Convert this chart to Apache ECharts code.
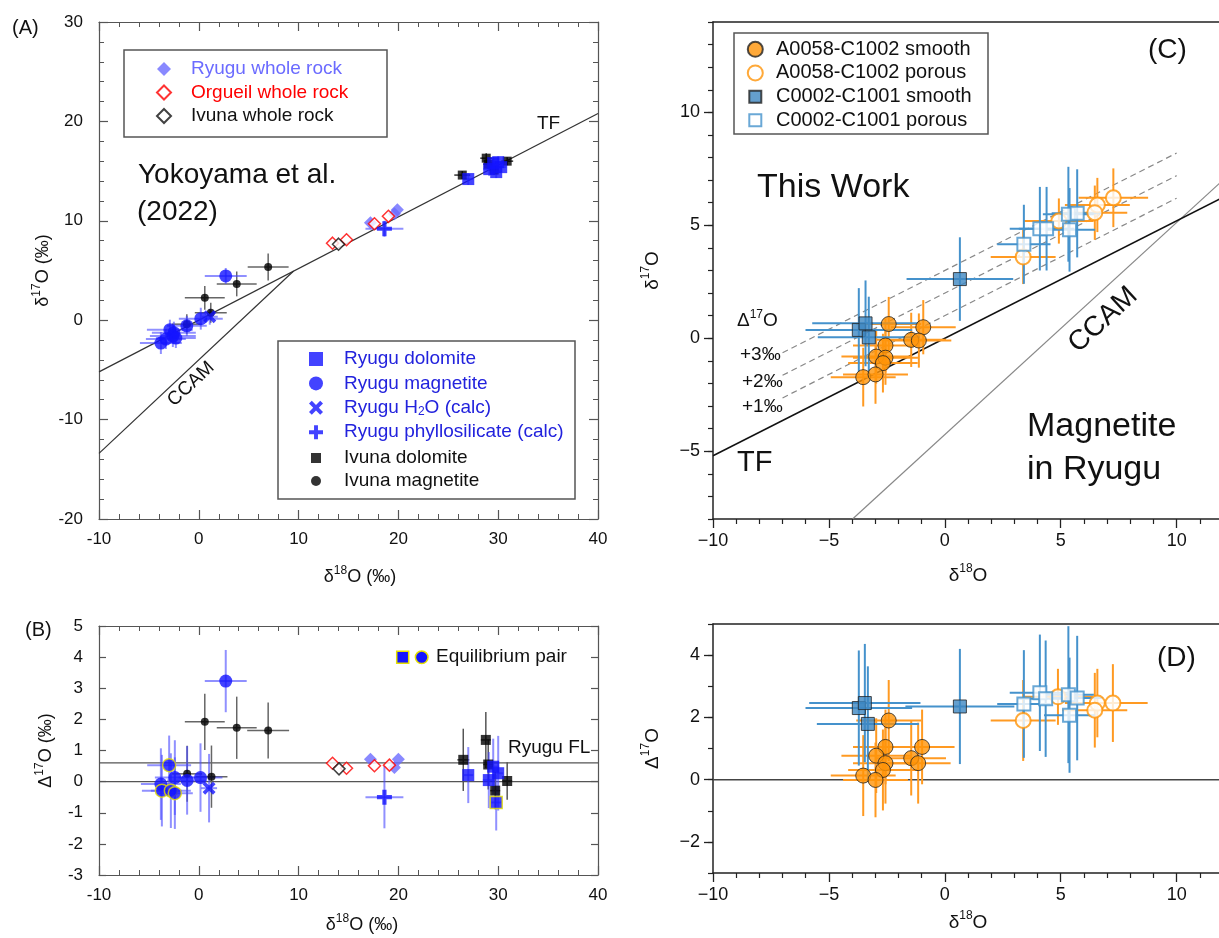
<!DOCTYPE html>
<html>
<head>
<meta charset="utf-8">
<script src="https://cdn.jsdelivr.net/npm/echarts@6/dist/echarts.min.js"></script>
<style>
  html, body { margin: 0; padding: 0; background: #fff; }
  #chart { width: 1219px; height: 938px; }
</style>
</head>
<body>
<div id="chart"></div>
<script>
// ---- Panel A: [d18O, d17O, xErr, yErr] (Yokoyama et al. 2022)
const aRyuguMagnetite = [[2.7, 4.45, 2.1, 0.8], [0.2, 0.15, 2.2, 1.1], [-1.2, -0.57, 2.0, 1.0], [-2.9, -0.95, 2.3, 1.0],
  [-2.5, -1.25, 2.2, 1.1], [-2.6, -1.6, 2.3, 1.1], [-2.3, -1.8, 2.0, 1.0], [-3.3, -1.9, 2.0, 1.0], [-3.8, -2.3, 2.1, 1.1]];
const aRyuguDolomite = [[27.0, 14.2, 0.5, 0.6], [29.5, 15.8, 0.6, 0.6], [30.0, 15.9, 0.5, 0.6], [29.1, 15.2, 0.6, 0.7],
  [29.8, 14.9, 0.5, 0.6], [30.3, 15.4, 0.5, 0.5]];
const aRyuguH2O = [[1.1, 0.35, 0.8, 0.8]];
const aRyuguPhyllo = [[18.6, 9.2, 1.9, 0.8]];
const aRyuguWhole = [[17.2, 9.8], [19.6, 10.7], [19.9, 11.1]];
const aOrgueilWhole = [[13.4, 7.75], [14.8, 8.1], [17.6, 9.7], [19.0, 10.45]];
const aIvunaWhole = [[14.0, 7.65]];
const aIvunaDolomite = [[28.8, 16.3, 0.6, 0.5], [26.4, 14.6, 0.8, 0.4], [29.0, 15.7, 0.5, 0.5], [30.9, 16.0, 0.6, 0.4], [29.6, 15.1, 0.5, 0.5]];
const aIvunaMagnetite = [[6.95, 5.35, 2.05, 1.35], [3.8, 3.65, 2.0, 1.25], [0.6, 2.25, 2.0, 1.2], [1.2, 0.75, 1.6, 1.0], [-1.2, -0.4, 1.5, 1.0]];
const aTF = [[-10, -5.2], [40, 20.8]];
const aCCAM = [[-10, -13.4], [9.5, 4.95]];

// ---- Panel B: [d18O, D17O, xErr, yErr]
const bRyuguMagnetite = [[2.7, 3.23, 2.1, 1.0], [-2.4, 0.13, 2.0, 1.2], [-1.17, 0.04, 2.0, 1.1], [0.17, 0.13, 2.2, 1.1], [-3.8, -0.08, 2.0, 1.15]];
const bRyuguMagnetiteEq = [[-2.97, 0.53, 2.2, 0.95], [-3.7, -0.29, 2.0, 1.15], [-2.8, -0.29, 2.0, 1.2], [-2.4, -0.37, 1.8, 1.15]];
const bRyuguH2O = [[1.03, -0.21, 0.8, 1.1]];
const bRyuguPhyllo = [[18.6, -0.5, 1.9, 1.0]];
const bRyuguDolomite = [[27.0, 0.21, 0.5, 0.9], [29.5, 0.48, 0.6, 0.9], [30.0, 0.27, 0.5, 1.2], [29.06, 0.05, 0.6, 0.9]];
const bRyuguDolomiteEq = [[29.8, -0.67, 0.5, 0.9]];
const bIvunaDolomite = [[28.76, 1.34, 0.5, 0.9], [26.5, 0.7, 0.6, 1.0], [29.0, 0.55, 0.5, 0.8], [30.9, 0.02, 0.5, 0.6], [29.7, -0.29, 0.5, 0.6]];
const bIvunaMagnetite = [[0.6, 1.92, 2.0, 0.9], [3.8, 1.73, 2.0, 1.0], [6.95, 1.64, 2.1, 0.9], [-1.17, 0.25, 1.5, 0.9], [1.27, 0.16, 1.6, 1.0]];
const bRyuguWhole = [[17.2, 0.72], [19.6, 0.45], [20.0, 0.72]];
const bOrgueilWhole = [[13.4, 0.59], [14.8, 0.43], [17.6, 0.51], [19.1, 0.53]];
const bIvunaWhole = [[14.05, 0.41]];
const bZero = [[-10, 0], [40, 0]];
const bRyuguFL = [[-10, 0.6], [40, 0.6]];

// ---- Panel C: [d18O, d17O, xErr, yErr] (this work)
const cSmoothCircle = [[-2.42, 0.63, 1.4, 1.2], [-2.56, -0.32, 1.4, 1.2], [-2.96, -0.81, 1.5, 1.2], [-2.56, -0.86, 1.4, 1.2],
  [-2.67, -1.1, 1.5, 1.3], [-3.52, -1.72, 1.4, 1.3], [-2.99, -1.6, 1.4, 1.3], [-1.45, -0.07, 1.5, 1.2], [-0.93, 0.49, 1.4, 1.2], [-1.12, -0.1, 1.4, 1.2]];
const cPorousCircle = [[3.38, 3.6, 1.4, 1.2], [4.92, 5.19, 1.5, 1.0], [6.58, 5.9, 1.4, 1.2], [6.47, 5.56, 1.4, 1.2], [7.27, 6.22, 1.5, 1.3]];
const cSmoothSquare = [[-3.71, 0.37, 2.3, 1.85], [-3.42, 0.66, 2.3, 1.9], [-3.28, 0.04, 2.2, 1.8], [0.65, 2.62, 2.3, 1.85]];
const cPorousSquare = [[3.41, 4.16, 1.15, 1.75], [4.1, 4.85, 1.3, 1.85], [4.39, 4.85, 1.2, 1.85], [5.33, 5.49, 1.1, 2.1], [5.71, 5.53, 1.1, 1.95], [5.38, 4.8, 1.1, 1.85]];
const cTF = [[-10, -5.2], [12, 6.24]];
const cCCAM = [[-3.98, -8], [12, 7.0]];
const cPlus1 = [[-7, -2.64], [10, 6.2]];
const cPlus2 = [[-7, -1.64], [10, 7.2]];
const cPlus3 = [[-7, -0.64], [10, 8.2]];

// ---- Panel D: [d18O, D17O, xErr, yErr]
const dSmoothCircle = [[-2.42, 1.9, 1.4, 1.3], [-2.56, 1.05, 1.4, 1.2], [-2.96, 0.77, 1.5, 1.2], [-2.56, 0.53, 1.4, 1.3],
  [-2.67, 0.31, 1.5, 1.3], [-3.52, 0.13, 1.4, 1.3], [-2.99, -0.01, 1.4, 1.2], [-1.45, 0.69, 1.5, 1.2], [-0.98, 1.05, 1.4, 1.2], [-1.15, 0.53, 1.4, 1.3]];
const dPorousCircle = [[3.38, 1.9, 1.4, 1.3], [4.88, 2.66, 1.5, 0.9], [6.58, 2.46, 1.4, 1.1], [6.47, 2.23, 1.4, 1.2], [7.25, 2.46, 1.5, 1.25]];
const dSmoothSquare = [[-3.71, 2.3, 2.3, 1.85], [-3.45, 2.46, 2.4, 1.9], [-3.32, 1.79, 2.2, 1.85], [0.65, 2.35, 2.35, 1.85]];
const dPorousSquare = [[3.41, 2.43, 1.15, 1.73], [4.1, 2.79, 1.3, 1.87], [4.35, 2.6, 1.2, 1.87], [5.33, 2.73, 1.1, 2.2], [5.71, 2.62, 1.1, 2.0], [5.38, 2.07, 1.1, 1.85]];
const dZero = [[-10, 0], [12, 0]];

const cdMajorY = [-5, 0, 5, 10];
const dMajorY = [-2, 0, 2, 4];

const FONT = 'Liberation Sans, Arial, Helvetica, sans-serif';
const BLUE = '#1414ff';
const BLUE_ERR = 'rgba(70,70,255,0.6)';
const WHOLE = '#6b6bff';
const ORANGE = '#ff9408';
const ORANGE_ERR = '#ff9a22';
const STEEL = '#3d87c2';
const STEEL_ERR = '#4592cc';
const YELLOW = '#e6e000';
const AB_C = '#555';
const CD_C = '#222';
const X_PATH = 'path://M0,2L2,0L5,3L8,0L10,2L7,5L10,8L8,10L5,7L2,10L0,8L3,5Z';
const PLUS_PATH = 'path://M3.6,0H6.4V3.6H10V6.4H6.4V10H3.6V6.4H0V3.6H3.6Z';

function rich(size) {
  return {
    b: { fontSize: size, fontFamily: FONT, color: '#111', lineHeight: size + 6 },
    s: { fontSize: Math.round(size * 0.65), fontFamily: FONT, color: '#111', verticalAlign: 'top' }
  };
}
const minus = v => (v < 0 ? '\u2212' + Math.abs(v) : String(v));

function errorBars(data, xi, yi, color, width) {
  return {
    type: 'custom', data: data, xAxisIndex: xi, yAxisIndex: yi, silent: true, z: 2, clip: true,
    renderItem: function (params, api) {
      const x = api.value(0), y = api.value(1), ex = api.value(2), ey = api.value(3);
      const l = api.coord([x - ex, y]), r = api.coord([x + ex, y]);
      const b = api.coord([x, y - ey]), t = api.coord([x, y + ey]);
      const st = { stroke: color, lineWidth: width };
      return { type: 'group', children: [
        { type: 'line', shape: { x1: l[0], y1: l[1], x2: r[0], y2: r[1] }, style: st },
        { type: 'line', shape: { x1: b[0], y1: b[1], x2: t[0], y2: t[1] }, style: st }
      ] };
    }
  };
}
function pts(name, data, xi, yi, symbol, size, itemStyle) {
  return { type: 'scatter', name: name, data: data, xAxisIndex: xi, yAxisIndex: yi,
    symbol: symbol, symbolSize: size, itemStyle: itemStyle, z: 3, emphasis: { disabled: true } };
}
function seg(data, xi, yi, color, width, dash) {
  return { type: 'line', data: data, xAxisIndex: xi, yAxisIndex: yi, symbol: 'none', silent: true, z: 1,
    lineStyle: { color: color, width: width, type: dash || 'solid' } };
}
function label(x, y, text, size, opts) {
  opts = opts || {};
  return { type: 'text', x: x, y: y, rotation: (opts.rot || 0) * Math.PI / 180, z: 10, silent: true,
    style: { text: text, fontSize: size, fontFamily: FONT, fill: opts.fill || '#111',
      align: opts.align || 'left', verticalAlign: 'middle', rich: opts.rich } };
}
function box(x, y, w, h) {
  return { type: 'rect', shape: { x: x, y: y, width: w, height: h }, silent: true, z: 0,
    style: { fill: 'none', stroke: '#555', lineWidth: 1.5 } };
}

// A / B axes: ticks inside on all four sides
function abX(grid, pos, name, gap, padLeft) {
  return {
    type: 'value', gridIndex: grid, position: pos, min: -10, max: 40, interval: 10,
    axisLine: { onZero: false, lineStyle: { color: AB_C, width: 1.2 } },
    axisTick: { inside: true, length: 9, lineStyle: { color: AB_C, width: 1.2 } },
    minorTick: { show: true, splitNumber: 5, length: 5, lineStyle: { color: AB_C, width: 1 } },
    axisLabel: { show: pos === 'bottom', fontSize: 17, color: '#111', fontFamily: FONT, margin: 12 },
    splitLine: { show: false },
    name: name || '', nameLocation: 'middle', nameGap: gap || 0,
    nameTextStyle: { rich: rich(18), padding: [0, 0, 0, padLeft || 0] }
  };
}
function abY(grid, pos, min, max, interval, minorSplit, tickLen, name, gap) {
  return {
    type: 'value', gridIndex: grid, position: pos, min: min, max: max, interval: interval,
    axisLine: { onZero: false, lineStyle: { color: AB_C, width: 1.2 } },
    axisTick: { inside: true, length: tickLen, lineStyle: { color: AB_C, width: 1.2 } },
    minorTick: { show: minorSplit > 0, splitNumber: minorSplit || 5, length: 5, lineStyle: { color: AB_C, width: 1 } },
    axisLabel: { show: pos === 'left', fontSize: 17, color: '#111', fontFamily: FONT, margin: 16 },
    splitLine: { show: false },
    name: name || '', nameLocation: 'middle', nameGap: gap || 0,
    nameTextStyle: { rich: rich(18) }
  };
}
// C / D axes: ticks outward
function cdX(grid, name, gap) {
  return {
    type: 'value', gridIndex: grid, position: 'bottom', min: -10, max: 12, interval: 5,
    axisLine: { onZero: false, lineStyle: { color: CD_C, width: 1.5 } },
    axisTick: { length: 9, lineStyle: { color: CD_C, width: 1.3 } },
    minorTick: { show: true, splitNumber: 5, length: 5, lineStyle: { color: CD_C, width: 1.2 } },
    axisLabel: { fontSize: 18, color: '#111', fontFamily: FONT, margin: 13, showMaxLabel: false, formatter: minus },
    splitLine: { show: false },
    name: name, nameLocation: 'middle', nameGap: gap, nameTextStyle: { rich: rich(19) }
  };
}
function cdTop(grid) {
  return { type: 'value', gridIndex: grid, position: 'top', min: -10, max: 12,
    axisLine: { onZero: false, lineStyle: { color: CD_C, width: 1.5 } },
    axisTick: { show: false }, axisLabel: { show: false }, splitLine: { show: false } };
}
function cdY(grid, min, max, majors, name, gap) {
  return {
    type: 'value', gridIndex: grid, position: 'left', min: min, max: max,
    axisLine: { onZero: false, lineStyle: { color: CD_C, width: 1.5 } },
    axisTick: { length: 9, customValues: majors, lineStyle: { color: CD_C, width: 1.3 } },
    axisLabel: { customValues: majors, fontSize: 18, color: '#111', fontFamily: FONT, margin: 13, formatter: minus },
    splitLine: { show: false },
    name: name, nameLocation: 'middle', nameGap: gap, nameTextStyle: { rich: rich(19) }
  };
}
function minorY(grid, min, max) {
  return { type: 'value', gridIndex: grid, position: 'left', min: min, max: max, interval: 1,
    axisLine: { show: false, onZero: false },
    axisTick: { length: 5, lineStyle: { color: CD_C, width: 1.2 } },
    axisLabel: { show: false }, splitLine: { show: false } };
}
// legend: icon box as wide as the symbol, text pushed right with padding
function legendBox(left, top, size, gap, textLeft, text, data, extra) {
  return Object.assign({
    orient: 'vertical', left: left - size / 2, top: top, padding: 0,
    itemWidth: size, itemHeight: size, itemGap: gap, selectedMode: false,
    textStyle: Object.assign({ padding: [0, 0, 0, textLeft - (left + size / 2 + 5)] }, text),
    data: data
  }, extra || {});
}

const chart = echarts.init(document.getElementById('chart'), null, { renderer: 'canvas' });

const legendText = { fontSize: 19, fontFamily: FONT, lineHeight: 19 };
const legendTextC = { fontSize: 20, fontFamily: FONT, lineHeight: 20, color: '#111' };

chart.setOption({
  animation: false,
  grid: [
    { left: 99, top: 22, width: 499, height: 497 },
    { left: 99, top: 626, width: 499, height: 249 },
    { left: 713, top: 22, width: 510, height: 497 },
    { left: 713, top: 624, width: 510, height: 249 },
    { left: 713, top: 22, width: 510, height: 497 },
    { left: 713, top: 624, width: 510, height: 249 }
  ].map(g => Object.assign(g, { containLabel: false, outerBoundsMode: 'none' })),
  xAxis: [
    abX(0, 'bottom', '{b|δ}{s|18}{b|O (‰)}', 46, 23),
    abX(0, 'top'),
    abX(1, 'bottom', '{b|δ}{s|18}{b|O (‰)}', 38, 27),
    abX(1, 'top'),
    cdX(2, '{b|δ}{s|18}{b|O}', 44),
    cdTop(2),
    cdX(3, '{b|δ}{s|18}{b|O}', 37),
    cdTop(3),
    { type: 'value', gridIndex: 4, show: false, min: 0, max: 1 },
    { type: 'value', gridIndex: 5, show: false, min: 0, max: 1 }
  ],
  yAxis: [
    abY(0, 'left', -20, 30, 10, 5, 9, '{b|δ}{s|17}{b|O (‰)}', 44),
    abY(0, 'right', -20, 30, 10, 5, 9),
    abY(1, 'left', -3, 5, 1, 0, 7, '{b|Δ}{s|17}{b|O (‰)}', 41),
    abY(1, 'right', -3, 5, 1, 0, 7),
    cdY(2, -8, 14, cdMajorY, '{b|δ}{s|17}{b|O}', 48),
    cdY(3, -3, 5, dMajorY, '{b|Δ}{s|17}{b|O}', 48),
    minorY(4, -8, 14),
    minorY(5, -3, 5)
  ],
  legend: [
    legendBox(163, 59.5, 14, 4.5, 190, legendText, [
      { name: 'Ryugu whole rock', textStyle: { color: WHOLE } },
      { name: 'Orgueil whole rock', textStyle: { color: '#ff0000' } },
      { name: 'Ivuna whole rock', textStyle: { color: '#111' } }
    ]),
    legendBox(316, 349.5, 14, 5.4, 344, Object.assign({ color: '#2222dd', rich: {
        n: { fontSize: 19, fontFamily: FONT, color: '#2222dd', lineHeight: 19 },
        s: { fontSize: 12, fontFamily: FONT, color: '#2222dd', verticalAlign: 'bottom' } } }, legendText),
      ['Ryugu dolomite', 'Ryugu magnetite', 'Ryugu H2O (calc)', 'Ryugu phyllosilicate (calc)'],
      { formatter: name => (name === 'Ryugu H2O (calc)' ? '{n|Ryugu H}{s|2}{n|O (calc)}' : name) }),
    legendBox(316, 448.5, 10, 4, 344, Object.assign({ color: '#111' }, legendText),
      ['Ivuna dolomite', 'Ivuna magnetite']),
    legendBox(754.3, 39.3, 15, 3.6, 775, legendTextC, ['A0058-C1002 smooth', 'A0058-C1002 porous']),
    legendBox(754.3, 86.7, 12, 3.6, 775, legendTextC, ['C0002-C1001 smooth', 'C0002-C1001 porous'])
  ],
  graphic: [
    box(124, 50, 263, 87),
    box(278, 341, 297, 158),
    box(734, 33, 254, 101),
    label(12, 28, '(A)', 20),
    label(25, 630, '(B)', 20),
    label(1148, 50, '(C)', 28),
    label(1157, 658, '(D)', 28),
    label(138, 175, 'Yokoyama et al.', 28),
    label(137, 212, '(2022)', 28),
    label(537, 124, 'TF', 19),
    label(191, 384, 'CCAM', 19, { align: 'center', rot: 43 }),
    label(508, 748, 'Ryugu FL', 19),
    { type: 'rect', shape: { x: 396.7, y: 651.3, width: 12, height: 12 }, z: 10, silent: true,
      style: { fill: BLUE, stroke: YELLOW, lineWidth: 1.5 } },
    { type: 'circle', shape: { cx: 421.7, cy: 657.3, r: 6.3 }, z: 10, silent: true,
      style: { fill: BLUE, stroke: YELLOW, lineWidth: 1.5 } },
    label(436, 657, 'Equilibrium pair', 19),
    label(757, 188, 'This Work', 34),
    label(1027, 427, 'Magnetite', 34),
    label(1027, 470, 'in Ryugu', 34),
    label(737, 463, 'TF', 29),
    label(1103, 320, 'CCAM', 28, { align: 'center', rot: 42.6 }),
    label(737, 321, '{b|Δ}{s|17}{b|O}', 19, { rich: rich(19) }),
    label(740, 355, '+3‰', 19),
    label(742, 381.5, '+2‰', 19),
    label(742, 406.5, '+1‰', 19)
  ],
  series: [
    // Panel A
    seg(aTF, 0, 0, '#333', 1.2),
    seg(aCCAM, 0, 0, '#333', 1.2),
    errorBars(aIvunaMagnetite, 0, 0, '#666', 1.5),
    errorBars(aIvunaDolomite, 0, 0, '#333', 1.5),
    errorBars(aRyuguMagnetite, 0, 0, BLUE_ERR, 2),
    errorBars(aRyuguDolomite, 0, 0, BLUE_ERR, 2),
    errorBars(aRyuguH2O, 0, 0, BLUE_ERR, 2),
    errorBars(aRyuguPhyllo, 0, 0, BLUE_ERR, 2),
    pts('Ryugu whole rock', aRyuguWhole, 0, 0, 'diamond', 13, { color: WHOLE }),
    pts('Orgueil whole rock', aOrgueilWhole, 0, 0, 'diamond', 12, { color: '#fff', borderColor: '#ff0000', borderWidth: 1.5 }),
    pts('Ivuna whole rock', aIvunaWhole, 0, 0, 'diamond', 12, { color: '#fff', borderColor: '#111', borderWidth: 1.5 }),
    pts('Ivuna dolomite', aIvunaDolomite, 0, 0, 'rect', 9, { color: '#000' }),
    pts('Ivuna magnetite', aIvunaMagnetite, 0, 0, 'circle', 8, { color: '#000' }),
    pts('Ryugu dolomite', aRyuguDolomite, 0, 0, 'rect', 12, { color: BLUE }),
    pts('Ryugu magnetite', aRyuguMagnetite, 0, 0, 'circle', 13, { color: BLUE }),
    pts('Ryugu H2O (calc)', aRyuguH2O, 0, 0, X_PATH, 13, { color: BLUE }),
    pts('Ryugu phyllosilicate (calc)', aRyuguPhyllo, 0, 0, PLUS_PATH, 15, { color: BLUE }),

    // Panel B
    seg(bZero, 2, 2, '#555', 1.2),
    seg(bRyuguFL, 2, 2, '#555', 1.2),
    errorBars(bIvunaMagnetite, 2, 2, '#666', 1.5),
    errorBars(bIvunaDolomite, 2, 2, '#555', 1.5),
    errorBars(bRyuguMagnetite, 2, 2, BLUE_ERR, 2),
    errorBars(bRyuguMagnetiteEq, 2, 2, BLUE_ERR, 2),
    errorBars(bRyuguDolomite, 2, 2, BLUE_ERR, 2),
    errorBars(bRyuguDolomiteEq, 2, 2, BLUE_ERR, 2),
    errorBars(bRyuguH2O, 2, 2, BLUE_ERR, 2),
    errorBars(bRyuguPhyllo, 2, 2, BLUE_ERR, 2),
    pts('Ryugu whole rock', bRyuguWhole, 2, 2, 'diamond', 13, { color: WHOLE }),
    pts('Orgueil whole rock', bOrgueilWhole, 2, 2, 'diamond', 12, { color: '#fff', borderColor: '#ff0000', borderWidth: 1.5 }),
    pts('Ivuna whole rock', bIvunaWhole, 2, 2, 'diamond', 12, { color: '#fff', borderColor: '#111', borderWidth: 1.5 }),
    pts('Ivuna dolomite', bIvunaDolomite, 2, 2, 'rect', 10, { color: '#000' }),
    pts('Ivuna magnetite', bIvunaMagnetite, 2, 2, 'circle', 8, { color: '#000' }),
    pts('Ryugu dolomite', bRyuguDolomite, 2, 2, 'rect', 12, { color: BLUE }),
    pts('Ryugu dolomite (eq)', bRyuguDolomiteEq, 2, 2, 'rect', 12, { color: BLUE, borderColor: YELLOW, borderWidth: 1.5 }),
    pts('Ryugu magnetite', bRyuguMagnetite, 2, 2, 'circle', 13, { color: BLUE }),
    pts('Ryugu magnetite (eq)', bRyuguMagnetiteEq, 2, 2, 'circle', 13, { color: BLUE, borderColor: YELLOW, borderWidth: 1.5 }),
    pts('Ryugu H2O (calc)', bRyuguH2O, 2, 2, X_PATH, 13, { color: BLUE }),
    pts('Ryugu phyllosilicate (calc)', bRyuguPhyllo, 2, 2, PLUS_PATH, 15, { color: BLUE }),

    // Panel C
    seg(cCCAM, 4, 4, '#888', 1.2),
    seg(cTF, 4, 4, '#111', 1.5),
    seg(cPlus1, 4, 4, '#888', 1.2, [6, 4]),
    seg(cPlus2, 4, 4, '#888', 1.2, [6, 4]),
    seg(cPlus3, 4, 4, '#888', 1.2, [6, 4]),
    errorBars(cSmoothCircle, 4, 4, ORANGE_ERR, 2),
    errorBars(cPorousCircle, 4, 4, ORANGE_ERR, 2),
    errorBars(cSmoothSquare, 4, 4, STEEL_ERR, 2),
    errorBars(cPorousSquare, 4, 4, STEEL_ERR, 2),
    pts('A0058-C1002 smooth', cSmoothCircle, 4, 4, 'circle', 15, { color: ORANGE, borderColor: '#222', borderWidth: 1 }),
    pts('A0058-C1002 porous', cPorousCircle, 4, 4, 'circle', 15, { color: '#fff', borderColor: ORANGE, borderWidth: 2 }),
    pts('C0002-C1001 smooth', cSmoothSquare, 4, 4, 'rect', 13, { color: STEEL, borderColor: '#222', borderWidth: 1 }),
    pts('C0002-C1001 porous', cPorousSquare, 4, 4, 'rect', 13, { color: '#fff', borderColor: STEEL_ERR, borderWidth: 2 }),

    // Panel D
    seg(dZero, 6, 5, '#444', 1.5),
    errorBars(dSmoothCircle, 6, 5, ORANGE_ERR, 2),
    errorBars(dPorousCircle, 6, 5, ORANGE_ERR, 2),
    errorBars(dSmoothSquare, 6, 5, STEEL_ERR, 2),
    errorBars(dPorousSquare, 6, 5, STEEL_ERR, 2),
    pts('A0058-C1002 smooth', dSmoothCircle, 6, 5, 'circle', 15, { color: ORANGE, borderColor: '#222', borderWidth: 1 }),
    pts('A0058-C1002 porous', dPorousCircle, 6, 5, 'circle', 15, { color: '#fff', borderColor: ORANGE, borderWidth: 2 }),
    pts('C0002-C1001 smooth', dSmoothSquare, 6, 5, 'rect', 13, { color: STEEL, borderColor: '#222', borderWidth: 1 }),
    pts('C0002-C1001 porous', dPorousSquare, 6, 5, 'rect', 13, { color: '#fff', borderColor: STEEL_ERR, borderWidth: 2 })
  ]
});
window.addEventListener('resize', () => chart.resize());
</script>
</body>
</html>
